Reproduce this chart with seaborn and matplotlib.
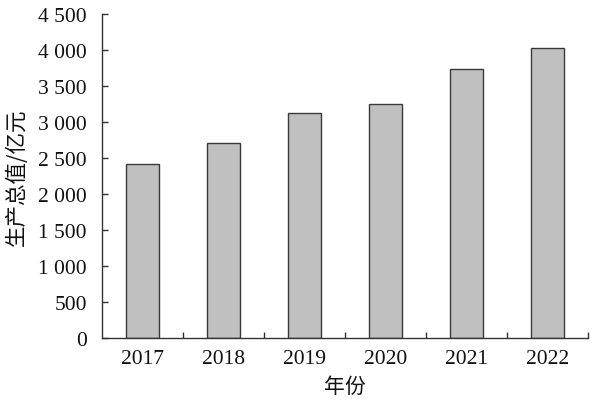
import matplotlib
matplotlib.use("Agg")
import matplotlib.pyplot as plt
import seaborn as sns
import pandas as pd
from matplotlib.ticker import FuncFormatter, FixedLocator

years = ["2017", "2018", "2019", "2020", "2021", "2022"]
values = [2418, 2706, 3122, 3247, 3741, 4028]
yticks = [0, 500, 1000, 1500, 2000, 2500, 3000, 3500, 4000, 4500]

sns.set_style("white")
plt.rcParams['font.family'] = ['Liberation Serif', 'Noto Sans CJK SC']

df = pd.DataFrame({"year": years, "value": values})

fig = plt.figure(figsize=(5.94, 4.02), dpi=100)
ax = fig.add_axes([102/594, 1-339.3/402, 486/594, 324.3/402])
sns.barplot(data=df, x="year", y="value", ax=ax, color="#c0c0c0",
            edgecolor="#3a3a3a", linewidth=1.0, width=0.4, saturation=1)

ax.set_xlim(-0.5, 5.5)
ax.set_ylim(0, 4500)
ax.set_yticks(yticks)
ax.yaxis.set_major_formatter(FuncFormatter(lambda v, p: f"{int(v):,}".replace(",", " ")))

for s in ["top", "right"]:
    ax.spines[s].set_visible(False)
for s in ["left", "bottom"]:
    ax.spines[s].set_color("#333333")
    ax.spines[s].set_linewidth(1.0)

ax.tick_params(axis="y", direction="in", length=4, width=1, color="#333333",
               labelsize=15.5, pad=11, left=True, labelcolor="#111111")
ax.tick_params(axis="x", which="major", length=0, labelsize=15.5, pad=8,
               labelcolor="#111111")
ax.xaxis.set_minor_locator(FixedLocator([0.5, 1.5, 2.5, 3.5, 4.5, 5.5]))
ax.tick_params(axis="x", which="minor", direction="in", length=4, width=1,
               color="#333333", bottom=True)

ax.set_xlabel("年份", fontsize=15, labelpad=5, color="#111111",
              family=['Noto Sans CJK SC', 'DejaVu Sans'])
ax.set_ylabel("生产总值/亿元", fontsize=15.5, labelpad=7, color="#111111",
              family=['Noto Sans CJK SC', 'DejaVu Sans'])

fig.savefig("out.png", dpi=100)
